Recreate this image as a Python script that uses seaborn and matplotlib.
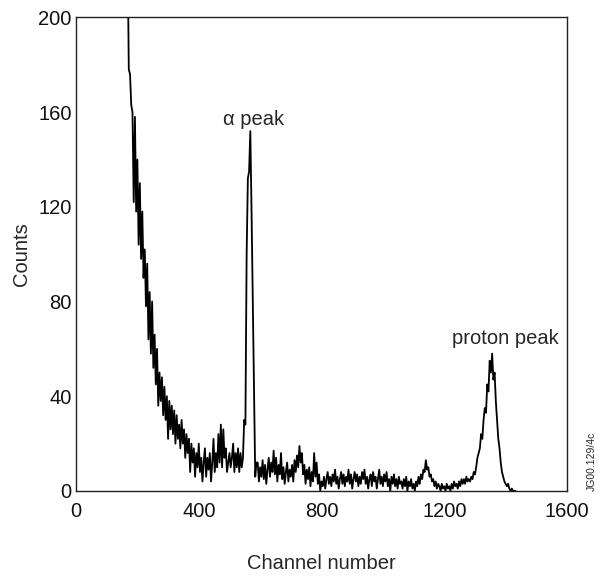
import numpy as np
import pandas as pd
import seaborn as sns
import matplotlib.pyplot as plt

# counts, one value every 4 channels starting at channel 168
decay = [230, 178, 176, 163, 160, 122, 158, 118, 140, 104, 130, 98, 118, 90,
         102, 78, 96, 64, 84, 58, 80, 52, 66, 45, 60, 36, 50, 38, 48, 32,
         44, 30, 40, 22, 38, 26, 36, 24, 34, 20, 32, 22]
tail = [28, 18, 30, 20, 26, 14, 24, 16, 22, 8, 20, 12, 18, 6, 16, 10, 20, 8,
        14, 4, 12, 18, 6, 14, 9, 16, 4, 12, 22, 8, 16, 10, 24, 12, 28, 10,
        26, 14, 18, 8, 12, 16, 10, 14, 20, 8, 16, 10, 18, 8, 16, 10, 14]
alpha_peak = [30, 28, 100, 132, 135, 152, 118, 80, 42, 6, 12]
mid = [12, 4, 10, 6, 13, 5, 11, 3, 9, 14, 6, 12, 8, 17, 7, 14, 4, 11, 7, 16,
       5, 10, 3, 8, 12, 4, 9, 6, 11, 4, 13, 8, 15, 10, 19, 12, 16, 7, 11, 3,
       9, 5, 10, 2, 8, 4, 16, 6, 12, 3, 7, 0, 4]
flat = [2, 6, 1, 5, 8, 3, 6, 2, 7, 4, 9, 3, 6, 1, 5, 8, 3, 7, 2, 6, 4, 9, 3,
        7, 1, 5, 8, 4, 7, 2, 6, 3, 8, 5, 9, 3, 6, 1, 5, 7, 2, 8, 4, 6, 1, 5,
        9, 3, 6, 2, 7, 4, 8, 2, 5, 0, 6, 3, 7, 2, 5, 1, 6, 3, 4, 1, 5, 2, 6,
        0, 4, 2, 5, 1, 3, 0, 4, 2, 6, 3]
valley = [7, 5, 9, 8, 13, 9, 10, 6, 7, 4, 5, 2, 4, 1, 3, 2, 0, 3, 1, 2, 0,
          3, 1, 2, 0, 3, 1, 4, 2, 3, 1, 4, 2, 5, 3, 5, 3, 6, 4, 5, 4, 6, 5,
          8, 7]
proton_peak = [10, 14, 16, 18, 24, 22, 30, 35, 33, 45, 42, 55, 50, 58, 47,
               50, 38, 30, 22, 18, 12, 8, 6, 4, 3, 2, 3, 1, 0, 1, 0, 0, 0]

counts = decay + tail + alpha_peak + mid + flat + valley + proton_peak
channels = np.arange(168, 168 + 4 * len(counts), 4)
df = pd.DataFrame({"channel": channels, "counts": counts})

sns.set_style("white")
plt.rcParams['font.family'] = ['Liberation Sans', 'DejaVu Sans']

fig = plt.figure(figsize=(6.13, 5.81), dpi=100)
ax = fig.add_axes([0.124, 0.155, 0.801, 0.815])
sns.lineplot(data=df, x="channel", y="counts", color="black", lw=1.3,
             estimator=None, sort=False, ax=ax)

ax.set_xlim(0, 1600)
ax.set_ylim(0, 200)
ax.set_xticks([0, 400, 800, 1200, 1600])
ax.set_yticks([0, 40, 80, 120, 160, 200])
ax.tick_params(direction="in", length=5, labelsize=14.5, colors="#111111")
ax.tick_params(axis="x", pad=8)
ax.tick_params(axis="y", pad=3)
for s in ax.spines.values():
    s.set_color("#222222")
    s.set_linewidth(1.0)
ax.set_xlabel("Channel number", fontsize=14.5, labelpad=24)
ax.set_ylabel("Counts", fontsize=14.5, labelpad=5)

ax.text(577, 157, "α peak", fontsize=14.5, ha="center", va="center")
ax.text(1400, 64.5, "proton peak", fontsize=14.5, ha="center", va="center")
fig.text(0.966, 0.155, "JG00.129/4c", rotation=90, fontsize=7.5,
         ha="center", va="bottom")

fig.savefig("out.png", dpi=100)
